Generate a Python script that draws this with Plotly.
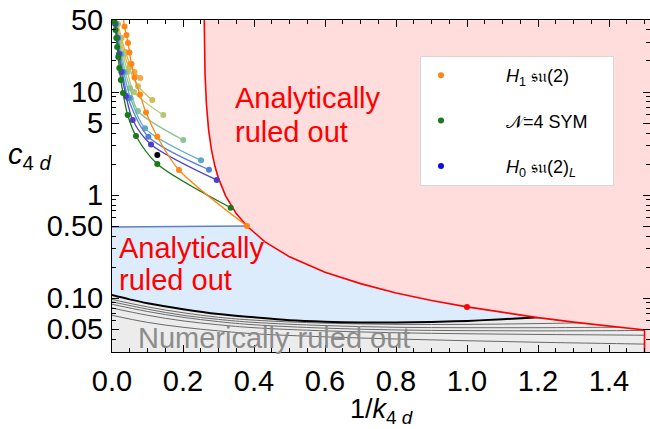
import plotly.graph_objects as go

# ---------------- data ----------------
# analytic bound (red curve), x = 1/k_4d, y = c_4d
red_x = [0.2586, 0.2592, 0.262, 0.266, 0.272, 0.28, 0.29, 0.30, 0.32, 0.35, 0.38, 0.43,
         0.5, 0.6, 0.7, 0.8, 0.9, 1.0, 1.1, 1.2, 1.3, 1.4, 1.5]
red_y = [100, 50, 15.2, 7.6, 4.34, 2.76, 1.90, 1.45, 0.98, 0.66, 0.50, 0.353,
         0.251, 0.178, 0.138, 0.112, 0.0947, 0.082, 0.0722, 0.0645, 0.0583, 0.0532, 0.049]
red_dot_x = [1.0]
red_dot_y = [0.082]
red_vline_x = 1.5

# upper edge of the light-blue region
blue_top_x = [0.0, 0.38]
blue_top_y = [0.49, 0.50]

# numerical bound (black) and the family of grey curves
black_x = [0.0, 0.05, 0.1, 0.2, 0.3, 0.4, 0.5, 0.6, 0.7, 0.8, 0.9, 1.0, 1.1, 1.19, 1.3]
black_y = [0.107, 0.097, 0.089, 0.078, 0.070, 0.065, 0.061, 0.059, 0.058, 0.0578,
           0.0585, 0.060, 0.0622, 0.0648, 0.068]
gray_x = [0.0, 0.1, 0.2, 0.3, 0.4, 0.6, 0.8, 1.0, 1.2, 1.4, 1.5]
gray_y1 = [0.097, 0.082, 0.072, 0.065, 0.061, 0.057, 0.0555, 0.0555, 0.0565, 0.058, 0.0585]
gray_y2 = [0.092, 0.078, 0.068, 0.062, 0.058, 0.054, 0.052, 0.0515, 0.0515, 0.052, 0.052]
gray_y3 = [0.087, 0.074, 0.065, 0.059, 0.055, 0.051, 0.049, 0.0482, 0.048, 0.0482, 0.0485]
gray_y4 = [0.080, 0.068, 0.060, 0.055, 0.0515, 0.048, 0.046, 0.045, 0.0443, 0.0438, 0.0435]
gray_y5 = [0.068, 0.058, 0.052, 0.048, 0.045, 0.042, 0.040, 0.0385, 0.0372, 0.0362, 0.0357]

# H1 su(2) (orange)
h1_x = [0.031, 0.0352, 0.0408, 0.0451, 0.0493, 0.0549, 0.0634, 0.0789, 0.0958, 0.1276, 0.1887, 0.380]
h1_y = [56, 43.2, 35.7, 29.9, 24.2, 18.7, 13.8, 9.46, 6.32, 3.68, 1.75, 0.50]

# N=4 SYM (green)
sym_x = [0.0070, 0.0099, 0.0121, 0.0146, 0.0175, 0.0206, 0.0248, 0.0310, 0.0442, 0.0676, 0.1276, 0.3344]
sym_y = [47.8, 40.0, 33.4, 27.3, 21.9, 17.1, 13.1, 9.77, 5.98, 3.74, 2.0, 0.753]

# H0 su(2)_L family (orange -> indigo)
lo_x = [0.0169, 0.0268, 0.0380, 0.0507, 0.0634, 0.0797]
lo_y = [45.7, 33.4, 24.5, 18.7, 15.6, 13.7]
yo_x = [0.0149, 0.0239, 0.0352, 0.0479, 0.0732, 0.1135]
yo_y = [45.7, 33.4, 23.4, 17.1, 11.4, 8.36]
yg_x = [0.0135, 0.0211, 0.0310, 0.0437, 0.0620, 0.1445]
yg_y = [45.7, 33.4, 23.4, 15.6, 10.0, 5.98]
lg_x = [0.0124, 0.0192, 0.0273, 0.0375, 0.0507, 0.0732, 0.2008]
lg_y = [45.7, 33.4, 23.4, 15.6, 10.9, 6.54, 3.42]
te_x = [0.0113, 0.0175, 0.0245, 0.0332, 0.0521, 0.0930, 0.2507]
te_y = [45.7, 33.4, 23.4, 15.6, 8.74, 4.44, 2.17]
bl_x = [0.0101, 0.0158, 0.0220, 0.0296, 0.0451, 0.1023, 0.2732]
bl_y = [45.7, 33.4, 23.4, 15.6, 8.74, 3.68, 1.76]
in_x = [0.0090, 0.0141, 0.0197, 0.0262, 0.0394, 0.0583, 0.1099, 0.2949]
in_y = [45.7, 33.4, 23.4, 15.6, 9.14, 5.35, 3.10, 1.40]

black_pt_x = [0.1276]
black_pt_y = [2.44]

y_tickvals = [0.05, 0.1, 0.5, 1, 5, 10, 50]
y_ticktext = ["0.05", "0.10", "0.50", "1", "5", "10", "50"]
y_minor = [0.04, 0.06, 0.07, 0.08, 0.09, 0.2, 0.3, 0.4, 0.6, 0.7, 0.8, 0.9,
           2, 3, 4, 6, 7, 8, 9, 20, 30, 40]

# ---------------- styling ----------------
FONT = "Liberation Sans"
X_MAX = 1.5155
Y_LO, Y_HI = 0.02, 100   # polygon extents beyond the frame (clipped)

fig = go.Figure()

# light-blue region (analytically ruled out)
fig.add_trace(go.Scatter(
    x=blue_top_x + [X_MAX + 0.01, X_MAX + 0.01, 0.0],
    y=blue_top_y + [blue_top_y[-1], Y_LO, Y_LO],
    fill="toself", fillcolor="rgb(221,236,252)", line=dict(width=0),
    mode="lines", hoverinfo="skip", showlegend=False))

# grey region (numerically ruled out)
fig.add_trace(go.Scatter(
    x=black_x + [X_MAX + 0.01, X_MAX + 0.01, 0.0],
    y=black_y + [black_y[-1], Y_LO, Y_LO],
    fill="toself", fillcolor="rgb(236,236,236)", line=dict(width=0),
    mode="lines", hoverinfo="skip", showlegend=False))

for gy in [gray_y1, gray_y2, gray_y3, gray_y4, gray_y5]:
    fig.add_trace(go.Scatter(x=gray_x, y=gy, mode="lines", line=dict(color="rgb(105,105,105)", width=1, shape="spline"),
                             hoverinfo="skip", showlegend=False))

fig.add_trace(go.Scatter(x=black_x, y=black_y, mode="lines",
                         line=dict(color="black", width=2, shape="spline"),
                         hoverinfo="skip", showlegend=False))

# pink region right of the analytic bound
fig.add_trace(go.Scatter(
    x=red_x + [red_vline_x, X_MAX + 0.01, X_MAX + 0.01],
    y=red_y + [Y_LO, Y_LO, Y_HI],
    fill="toself", fillcolor="rgb(255,221,221)", line=dict(width=0),
    mode="lines", hoverinfo="skip", showlegend=False))

fig.add_trace(go.Scatter(x=red_x + [red_vline_x], y=red_y + [Y_LO], mode="lines",
                         line=dict(color="rgb(255,0,0)", width=1.6),
                         hoverinfo="skip", showlegend=False))

fig.add_trace(go.Scatter(x=blue_top_x, y=blue_top_y, mode="lines",
                         line=dict(color="rgb(95,130,190)", width=1.4),
                         hoverinfo="skip", showlegend=False))

series = [
    (lo_x, lo_y, "rgb(242,168,72)"),
    (yo_x, yo_y, "rgb(208,188,88)"),
    (yg_x, yg_y, "rgb(178,200,112)"),
    (lg_x, lg_y, "rgb(140,196,150)"),
    (te_x, te_y, "rgb(92,168,196)"),
    (bl_x, bl_y, "rgb(82,128,214)"),
    (in_x, in_y, "rgb(76,62,200)"),
    (sym_x, sym_y, "rgb(24,122,24)"),
    (h1_x, h1_y, "rgb(255,133,20)"),
]
for sx, sy, col in series:
    fig.add_trace(go.Scatter(x=sx, y=sy, mode="lines+markers",
                             line=dict(color=col, width=1.3, shape="spline", smoothing=0.8),
                             marker=dict(color=col, size=6),
                             hoverinfo="skip", showlegend=False))

fig.add_trace(go.Scatter(x=black_pt_x, y=black_pt_y, mode="markers",
                         marker=dict(color="black", size=6), showlegend=False, hoverinfo="skip"))
fig.add_trace(go.Scatter(x=red_dot_x, y=red_dot_y, mode="markers",
                         marker=dict(color="rgb(255,0,0)", size=6), showlegend=False, hoverinfo="skip"))

# legend entries
NB = "\u00a0" * 9
TR = "\u00a0" * 4
legend_items = [
    (NB + "<i>H</i><sub>1</sub> \U0001D530\U0001D532(2)" + TR, "rgb(255,133,20)"),
    (NB + "\U0001D4A9=4 SYM" + TR, "rgb(24,122,24)"),
    (NB + "<i>H</i><sub>0</sub> \U0001D530\U0001D532(2)<sub><i>L</i></sub>" + TR, "rgb(10,10,240)"),
]
for i, (name, col) in enumerate(legend_items):
    fig.add_trace(go.Scatter(x=[None], y=[None], mode="markers", name=name,
                             marker=dict(color=col, size=6), legendgroup=f"g{i}"))

def px2paper_x(px):
    return (px - 112) / 538.0

def px2paper_y(py):
    return (352 - py) / 332.0

ann_font = dict(family=FONT, size=29, color="rgb(255,0,0)")
annotations = [
    dict(text="Analytically", x=px2paper_x(233), y=px2paper_y(98), font=ann_font),
    dict(text="ruled out", x=px2paper_x(233), y=px2paper_y(132), font=ann_font),
    dict(text="Analytically", x=px2paper_x(117), y=px2paper_y(248), font=ann_font),
    dict(text="ruled out", x=px2paper_x(117), y=px2paper_y(280), font=ann_font),
    dict(text="Numerically ruled out", x=px2paper_x(136), y=px2paper_y(338),
         font=dict(family=FONT, size=29, color="rgb(140,140,140)")),
    dict(text="<i>c</i><sub>4 <i>d</i></sub>", x=px2paper_x(6), y=px2paper_y(156),
         font=dict(family=FONT, size=29, color="black")),
    dict(text="1/<i>k</i><sub>4 <i>d</i></sub>", x=0.5, y=px2paper_y(411), xanchor="center",
         font=dict(family=FONT, size=27, color="black")),
]
for a in annotations:
    a.setdefault("xanchor", "left")
    a.update(xref="paper", yref="paper", yanchor="middle", showarrow=False)

fig.update_layout(
    width=650, height=429,
    margin=dict(l=112, r=0, t=20, b=77, autoexpand=False),
    paper_bgcolor="white", plot_bgcolor="white",
    font=dict(family=FONT, size=29, color="black"),
    annotations=annotations,
    legend=dict(x=px2paper_x(420), y=px2paper_y(56), xanchor="left", yanchor="top",
                bgcolor="white", bordercolor="rgb(215,215,215)", borderwidth=1,
                font=dict(family=FONT, size=18, color="black"),
                traceorder="grouped", tracegroupgap=19, itemwidth=30),
    showlegend=True,
)
fig.update_xaxes(range=[0, X_MAX], showline=True, linecolor="black", linewidth=1, mirror="ticks",
                 ticks="inside", ticklen=7, tickcolor="black", dtick=0.2, tick0=0, tickformat=".1f",
                 showgrid=False, zeroline=False, ticklabelstandoff=3, automargin=False,
                 minor=dict(ticks="inside", ticklen=4, dtick=0.05, tickcolor="black", showgrid=False))
fig.update_yaxes(type="log", range=[-1.524, 1.699], showline=True, linecolor="black", linewidth=1,
                 mirror="ticks", ticks="inside", ticklen=7, tickcolor="black",
                 tickmode="array", tickvals=y_tickvals, ticktext=y_ticktext,
                 showgrid=False, zeroline=False, ticklabelstandoff=2, automargin=False,
                 minor=dict(ticks="inside", ticklen=4, tickmode="array", tickvals=y_minor,
                            tickcolor="black", showgrid=False))

fig.write_html("out.html", config={"displayModeBar": False},
               post_script="document.body.style.margin='0px';")
